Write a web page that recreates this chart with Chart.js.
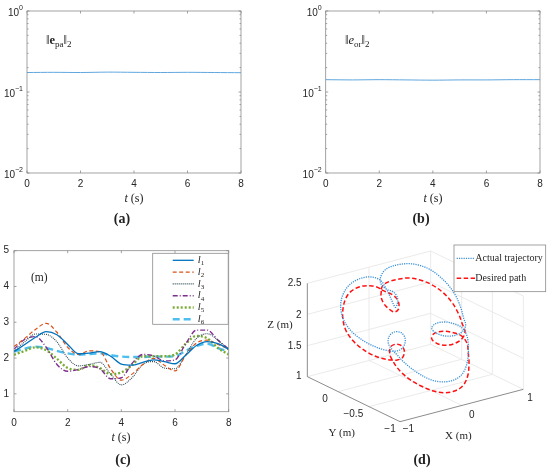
<!DOCTYPE html>
<html>
<head>
<meta charset="utf-8">
<script src="https://cdn.jsdelivr.net/npm/chart.js@4.4.0/dist/chart.umd.min.js"></script>
<style>
body{margin:0;background:#fff;width:550px;height:471px;position:relative;overflow:hidden;}
canvas{position:absolute;}
.t{position:absolute;font-family:"Liberation Serif",serif;color:#222;white-space:nowrap;transform:translate(-50%,-50%);}
.cap{font-weight:bold;font-size:14px;}
.xl{font-size:12px;}
.nm{font-size:12.5px;transform:translate(0,-50%);}
.nm sub{font-size:9px;vertical-align:-3px;line-height:0;}
</style>
</head>
<body>
<canvas id="ca" style="left:0;top:0" width="275" height="230"></canvas>
<canvas id="cb" style="left:275px;top:0" width="275" height="230"></canvas>
<canvas id="cc" style="left:0;top:230px" width="275" height="241"></canvas>
<canvas id="cd" style="left:260px;top:230px" width="290" height="241"></canvas>

<div class="t nm" style="left:46px;top:40px">‖<b>e</b><sub>pa</sub>‖<sub>2</sub></div>
<div class="t nm" style="left:345px;top:40px">‖<i>e</i><sub>or</sub>‖<sub>2</sub></div>
<div class="t nm" style="left:31px;top:277px;font-size:11.5px">(m)</div>
<div class="t xl" style="left:134px;top:198px"><i>t</i> (s)</div>
<div class="t xl" style="left:433px;top:198px"><i>t</i> (s)</div>
<div class="t xl" style="left:121px;top:437px"><i>t</i> (s)</div>
<div class="t cap" style="left:122px;top:219px">(a)</div>
<div class="t cap" style="left:421px;top:219px">(b)</div>
<div class="t cap" style="left:123px;top:460px">(c)</div>
<div class="t cap" style="left:422px;top:460px">(d)</div>

<script>
// (a), (b) error norms
var tErr = [0,1,2,3,4,5,6,7,8];
var errPa = [0.174,0.175,0.174,0.176,0.175,0.174,0.175,0.174,0.173];
var errOr = [0.142,0.141,0.142,0.141,0.140,0.141,0.141,0.142,0.142];

// (c) leg lengths
var tLeg = [0,0.4,0.8,1.2,1.6,2.0,2.4,2.8,3.2,3.6,4.0,4.4,4.8,5.2,5.6,6.0,6.4,6.8,7.2,7.6,8.0];
var l1 = [2.18,2.38,2.58,2.74,2.65,2.38,2.12,2.14,2.18,2.05,1.83,1.8,1.88,1.95,1.9,1.84,2.08,2.35,2.46,2.4,2.25];
var l2 = [2.32,2.55,2.8,2.97,2.72,2.3,2.1,2.2,2.18,1.7,1.38,1.55,1.82,1.99,1.8,1.64,2.08,2.42,2.5,2.38,2.25];
var l3 = [2.2,2.45,2.67,2.66,2.45,2.0,1.78,1.82,1.88,1.55,1.25,1.45,1.82,1.9,1.72,1.7,2.1,2.55,2.68,2.5,2.22];
var l4 = [2.25,2.52,2.6,2.3,1.82,1.63,1.68,1.76,1.7,1.42,1.45,1.85,2.1,2.06,1.92,1.95,2.4,2.78,2.78,2.5,2.25];
var l5 = [2.09,2.2,2.3,2.22,1.98,1.72,1.67,1.8,1.72,1.55,1.6,1.8,2.05,2.05,2.05,2.1,2.4,2.62,2.55,2.28,2.1];
var l6 = [2.18,2.26,2.32,2.28,2.2,2.13,2.09,2.11,2.13,2.08,2.04,2.03,2.03,2.04,2.04,2.05,2.2,2.34,2.4,2.28,2.18];
var legTicks = [1,2,3,4,5];

// (d) 3D paths
var actualPath = [[315,152],[318,138],[328,122],[345,111],[370,104],[400,101],[430,105],[460,116],[490,136],[518,163],[542,197],[558,235],[566,265],
  [572,285],[562,305],[540,316],[512,318],[485,310],[470,295],[482,281],[510,276],[540,282],[562,294],[576,318],
  [580,350],[578,390],[568,422],[550,443],[522,454],[492,455],[462,447],[432,431],[405,412],[382,392],[365,373],
  [352,360],[340,340],[343,318],[358,306],[378,308],[390,324],[388,345],[374,360],[352,364],[330,360],
  [305,352],[275,338],[245,318],[220,293],[203,262],[197,228],[203,196],[220,168],[245,150],[275,141],[300,143],[318,152],
  [330,170],[343,195],[355,222],[362,232],[368,215],[365,197],[352,184],[335,178],[320,165],[315,152]];
var desiredPath = [[318,178],[325,165],[342,155],[368,148],[400,144],[435,150],[470,164],[502,186],[530,216],[550,250],[562,282],
  [570,305],[562,325],[540,340],[512,346],[485,340],[470,326],[478,310],[505,304],[535,308],[560,318],[576,340],
  [580,370],[582,400],[578,438],[563,468],[536,484],[505,488],[472,482],[438,468],[405,449],[380,428],[363,408],[352,390],
  [345,375],[346,352],[360,343],[378,346],[388,362],[383,382],[367,390],[348,390],
  [320,385],[288,373],[258,354],[232,330],[213,302],[204,270],[204,236],[212,206],[228,184],[255,170],[285,167],[308,172],[318,180],
  [318,200],[326,220],[342,237],[358,246],[370,238],[371,218],[360,200],[342,189],[325,182],[318,178]];
var boxGrid = [[189,485,559,388],[282,530,652,433],[560,526,282,391],[97,440,467,343],[467,343,745,478],
  [97,347,467,250],[97,253,467,156],[97,160,467,63],[282,391,282,111],[467,343,467,63],
  [467,250,745,385],[467,156,745,291],[467,63,745,198],[560,388,560,108],[652,433,652,153],[745,478,745,198]];
var boxAxes = [[97,440,97,160],[97,440,375,575],[375,575,745,478]];

var sans = '"Liberation Sans", Arial, sans-serif';
var serif = '"Liberation Serif", serif';

var framePlugin = {
  id: 'frame',
  afterDatasetsDraw: function(chart, args, opts) {
    if (!opts.on) return;
    var ctx = chart.ctx, a = chart.chartArea;
    var xs = chart.scales.x, ys = chart.scales.y;
    ctx.save();
    ctx.strokeStyle = '#8c8c8c';
    ctx.lineWidth = 0.8;
    ctx.strokeRect(a.left, a.top, a.right - a.left, a.bottom - a.top);
    ctx.beginPath();
    xs.ticks.forEach(function(tk) {
      var p = xs.getPixelForValue(tk.value);
      ctx.moveTo(p, a.bottom); ctx.lineTo(p, a.bottom - 2.5);
      ctx.moveTo(p, a.top); ctx.lineTo(p, a.top + 2.5);
    });
    ys.ticks.forEach(function(tk) {
      var p = ys.getPixelForValue(tk.value);
      ctx.moveTo(a.left, p); ctx.lineTo(a.left + 2.5, p);
      ctx.moveTo(a.right, p); ctx.lineTo(a.right - 2.5, p);
    });
    if (opts.log) {
      [0.01, 0.1].forEach(function(d) {
        for (var k = 2; k < 10; k++) {
          var p = ys.getPixelForValue(d * k);
          ctx.moveTo(a.left, p); ctx.lineTo(a.left + 1.5, p);
          ctx.moveTo(a.right, p); ctx.lineTo(a.right - 1.5, p);
        }
      });
    }
    ctx.stroke();
    if (opts.log) {
      ctx.fillStyle = '#262626';
      ctx.textBaseline = 'middle';
      [[0.01,'\u22122'],[0.1,'\u22121'],[1,'0']].forEach(function(e) {
        var p = ys.getPixelForValue(e[0]);
        ctx.font = '7px ' + sans;
        var we = ctx.measureText(e[1]).width;
        var xr = a.left - 4;
        ctx.textAlign = 'right';
        ctx.fillText(e[1], xr, p - 3);
        ctx.font = '10px ' + sans;
        ctx.fillText('10', xr - we, p + 2);
      });
    }
    if (opts.legend) {
      var L = opts.legend;
      ctx.fillStyle = '#fff';
      ctx.fillRect(L.x0, L.y0, L.x1 - L.x0, L.y1 - L.y0);
      ctx.strokeStyle = '#8c8c8c';
      ctx.lineWidth = 0.8;
      ctx.strokeRect(L.x0, L.y0, L.x1 - L.x0, L.y1 - L.y0);
      chart.data.datasets.forEach(function(ds, i) {
        var y = L.y0 + 7 + i * 11.8;
        ctx.save();
        ctx.strokeStyle = ds.borderColor;
        ctx.lineWidth = ds.borderWidth;
        ctx.setLineDash(ds.borderDash || []);
        ctx.beginPath(); ctx.moveTo(L.x0 + 20, y); ctx.lineTo(L.x0 + 41, y); ctx.stroke();
        ctx.restore();
        ctx.fillStyle = '#262626';
        ctx.textAlign = 'left';
        ctx.textBaseline = 'middle';
        ctx.font = 'italic 10.5px ' + serif;
        ctx.fillText('l', L.x0 + 45, y);
        ctx.font = '7px ' + serif;
        ctx.fillText(ds.label, L.x0 + 48, y + 3);
      });
    }
    ctx.restore();
  }
};

function errChart(id, values, yw, padRight) {
  new Chart(document.getElementById(id), {
    type: 'line',
    data: { datasets: [{ data: tErr.map(function(x, i) { return { x: x, y: values[i] }; }),
      borderColor: '#5fa6de', borderWidth: 1, pointRadius: 0, tension: 0.3 }] },
    options: {
      responsive: false, animation: false,
      layout: { padding: { left: 0, top: 11, right: padRight, bottom: 0 } },
      plugins: { legend: { display: false }, tooltip: { enabled: false }, frame: { on: true, log: true } },
      scales: {
        x: { type: 'linear', min: 0, max: 8,
          grid: { display: false, drawTicks: false }, border: { display: false },
          ticks: { stepSize: 2, maxRotation: 0, padding: 5, color: '#262626', font: { family: sans, size: 10 } },
          afterFit: function(s) { s.height = 57; } },
        y: { type: 'logarithmic', min: 0.01, max: 1,
          grid: { display: false, drawTicks: false }, border: { display: false },
          ticks: { display: false },
          afterBuildTicks: function(s) { s.ticks = [0.01, 0.1, 1].map(function(v) { return { value: v }; }); },
          afterFit: function(s) { s.width = yw; } }
      }
    },
    plugins: [framePlugin]
  });
}
errChart('ca', errPa, 27, 34);
errChart('cb', errOr, 50.7, 10);

var legStyles = [
  { label: '1', data: l1, color: '#0072BD', width: 1.3, dash: [] },
  { label: '2', data: l2, color: '#D95319', width: 1.2, dash: [4, 2.5] },
  { label: '3', data: l3, color: '#2f4a52', width: 1.1, dash: [1, 1] },
  { label: '4', data: l4, color: '#7E2F8E', width: 1.4, dash: [5, 2, 1, 2] },
  { label: '5', data: l5, color: '#77AC30', width: 2.4, dash: [2, 2] },
  { label: '6', data: l6, color: '#4DBEEE', width: 2.4, dash: [7, 4] }
];

new Chart(document.getElementById('cc'), {
  type: 'line',
  data: { datasets: legStyles.map(function(s) {
    return { label: s.label, data: tLeg.map(function(x, i) { return { x: x, y: s.data[i] }; }),
      borderColor: s.color, borderWidth: s.width, borderDash: s.dash, pointRadius: 0,
      cubicInterpolationMode: 'monotone' };
  }) },
  options: {
    responsive: false, animation: false,
    layout: { padding: { left: 0, top: 20.7, right: 46.3, bottom: 0 } },
    plugins: { legend: { display: false }, tooltip: { enabled: false },
      frame: { on: true, legend: { x0: 152.7, y0: 23.3, x1: 228.2, y1: 94.3 } } },
    scales: {
      x: { type: 'linear', min: 0, max: 8,
        grid: { display: false, drawTicks: false }, border: { display: false },
        ticks: { stepSize: 2, maxRotation: 0, padding: 6, color: '#262626', font: { family: sans, size: 10 } },
        afterFit: function(s) { s.height = 59.3; } },
      y: { type: 'linear', min: 0.5, max: 5,
        grid: { display: false, drawTicks: false }, border: { display: false },
        ticks: { padding: 5, color: '#262626', font: { family: sans, size: 10 } },
        afterBuildTicks: function(s) { s.ticks = legTicks.map(function(v) { return { value: v }; }); },
        afterFit: function(s) { s.width = 14; } }
    }
  },
  plugins: [framePlugin]
});

// (d) labels, placed in the picture units of the 3D view
var labels3d = [
  ['2.5', 80, 160, 'right'], ['2', 80, 255, 'right'], ['1.5', 80, 350, 'right'], ['1', 80, 440, 'right'],
  ['0', 150, 508, 'center'], ['\u22120.5', 235, 553, 'center'], ['\u22121', 345, 598, 'center'],
  ['\u22121', 400, 598, 'center'], ['0', 590, 555, 'center'], ['1', 765, 505, 'center']
];
var titles3d = [['Z (m)', 15, 285], ['Y (m)', 200, 610], ['X (m)', 550, 618]];

var view3dPlugin = {
  id: 'view3d',
  afterDatasetsDraw: function(chart) {
    var ctx = chart.ctx, xs = chart.scales.x, ys = chart.scales.y;
    function px(x) { return xs.getPixelForValue(x); }
    function py(y) { return ys.getPixelForValue(y); }
    ctx.save();
    ctx.fillStyle = '#262626';
    ctx.textBaseline = 'middle';
    ctx.font = '10px ' + sans;
    labels3d.forEach(function(l) { ctx.textAlign = l[3]; ctx.fillText(l[0], px(l[1]), py(l[2])); });
    ctx.font = '11px ' + serif;
    ctx.textAlign = 'center';
    titles3d.forEach(function(l) { ctx.fillText(l[0], px(l[1]), py(l[2])); });
    // legend
    var x0 = px(537), y0 = py(45), x1 = px(812), y1 = py(185);
    ctx.fillStyle = '#fff';
    ctx.fillRect(x0, y0, x1 - x0, y1 - y0);
    ctx.strokeStyle = '#8c8c8c'; ctx.lineWidth = 0.8;
    ctx.strokeRect(x0, y0, x1 - x0, y1 - y0);
    var ents = [[chart.data.datasets[0], 'Actual trajectory', 85], [chart.data.datasets[1], 'Desired path', 145]];
    ents.forEach(function(e) {
      var y = py(e[2]);
      ctx.save();
      ctx.strokeStyle = e[0].borderColor; ctx.lineWidth = e[0].borderWidth; ctx.setLineDash(e[0].borderDash);
      ctx.beginPath(); ctx.moveTo(px(545), y); ctx.lineTo(px(600), y); ctx.stroke();
      ctx.restore();
      ctx.fillStyle = '#262626';
      ctx.textAlign = 'left';
      ctx.font = '10px ' + serif;
      ctx.fillText(e[1], px(601), y);
    });
    ctx.restore();
  }
};

function pts(a) { return a.map(function(p) { return { x: p[0], y: p[1] }; }); }
var dsD = [
  { data: pts(actualPath), borderColor: '#3a90d6', borderWidth: 1.3, borderDash: [1.2, 1.1], tension: 0.35 },
  { data: pts(desiredPath), borderColor: '#ff1010', borderWidth: 1.5, borderDash: [4.5, 2.5], tension: 0.35 }
];
boxAxes.forEach(function(s) {
  dsD.push({ data: [{ x: s[0], y: s[1] }, { x: s[2], y: s[3] }], borderColor: '#6e6e6e', borderWidth: 0.8, borderDash: [], tension: 0 });
});
boxGrid.forEach(function(s) {
  dsD.push({ data: [{ x: s[0], y: s[1] }, { x: s[2], y: s[3] }], borderColor: '#e4e4e4', borderWidth: 0.8, borderDash: [], tension: 0 });
});
dsD.forEach(function(d) { d.showLine = true; d.pointRadius = 0; d.fill = false; });

new Chart(document.getElementById('cd'), {
  type: 'scatter',
  data: { datasets: dsD },
  options: {
    responsive: false, animation: false,
    layout: { padding: 0 },
    plugins: { legend: { display: false }, tooltip: { enabled: false } },
    scales: {
      x: { type: 'linear', display: false, min: -45, max: 825 },
      y: { type: 'linear', display: false, min: 0, max: 723, reverse: true }
    }
  },
  plugins: [view3dPlugin]
});
</script>
</body>
</html>
